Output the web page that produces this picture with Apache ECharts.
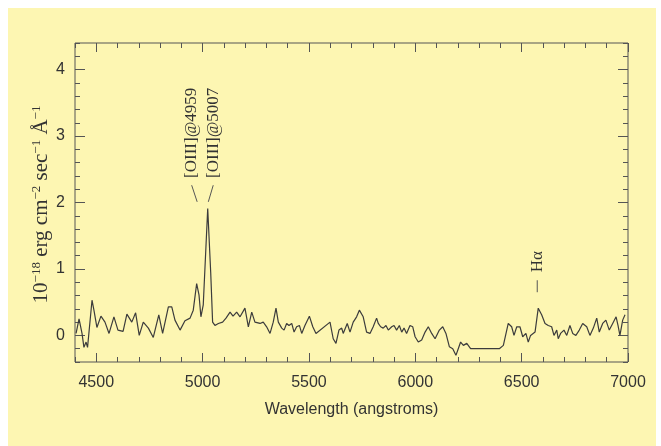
<!DOCTYPE html>
<html>
<head>
<meta charset="utf-8">
<script src="https://cdn.jsdelivr.net/npm/echarts@6/dist/echarts.min.js"></script>
<style>
  html, body { margin: 0; padding: 0; background: #ffffff; }
  #bg { position: absolute; left: 8px; top: 8px; width: 648px; height: 438px; background: #fdf6b2; }
  #chart { position: absolute; left: 0; top: 0; width: 661px; height: 446px; }
</style>
</head>
<body>
<div id="bg"></div>
<div id="chart"></div>
<script>
// ---- data ----
const wavelengths = [4405,4419,4433,4442,4452,4459,4480,4489,4503,4522,
  4541,4560,4583,4602,4626,4644,4667,4685,4702,4721,
  4745,4768,4794,4812,4839,4855,4870,4894,4917,4941,
  4956,4972,4983,4992,5003,5024,5038,5047,5058,5074,
  5094,5110,5129,5143,5160,5176,5199,5215,5231,5246,
  5270,5285,5301,5317,5332,5345,5356,5372,5383,5395,
  5406,5419,5430,5442,5455,5466,5481,5502,5518,5533,
  5599,5614,5627,5641,5654,5661,5680,5693,5708,5724,
  5737,5745,5755,5771,5787,5802,5818,5826,5837,5849,
  5862,5873,5889,5900,5912,5925,5936,5947,5959,5975,
  5988,5999,6014,6030,6046,6061,6077,6093,6113,6129,
  6144,6160,6176,6191,6202,6213,6226,6242,6260,6395,
  6414,6437,6453,6464,6477,6492,6505,6520,6531,6542,
  6563,6578,6594,6610,6625,6641,6652,6665,6672,6683,
  6699,6712,6727,6740,6755,6771,6787,6806,6821,6837,
  6853,6865,6881,6896,6912,6928,6944,6953,6962,6975,
  6986];
const flux = [0.03,0.25,0.03,-0.18,-0.10,-0.18,0.53,0.38,0.12,0.29,
  0.20,0.03,0.28,0.08,0.06,0.32,0.20,0.34,0.00,0.20,
  0.11,-0.03,0.31,0.03,0.43,0.43,0.23,0.08,0.22,0.26,
  0.38,0.78,0.61,0.28,0.46,1.91,0.95,0.20,0.15,0.18,
  0.20,0.26,0.35,0.29,0.35,0.28,0.41,0.13,0.35,0.20,
  0.18,0.20,0.13,0.03,0.20,0.41,0.20,0.11,0.08,0.18,
  0.15,0.18,0.05,0.13,0.15,0.03,0.15,0.29,0.13,0.03,
  0.20,-0.05,-0.12,0.08,0.11,0.03,0.18,0.05,0.20,0.28,
  0.38,0.38,0.28,0.05,0.03,0.13,0.26,0.18,0.13,0.11,
  0.15,0.08,0.13,0.15,0.08,0.15,0.05,0.11,0.03,0.15,
  0.13,-0.02,-0.10,-0.07,0.05,0.13,0.03,-0.05,0.08,0.13,
  0.03,-0.17,-0.20,-0.30,-0.20,-0.10,-0.15,-0.12,-0.20,-0.20,
  -0.15,0.18,0.13,0.00,0.13,0.13,-0.02,0.03,-0.10,0.00,
  0.05,0.41,0.31,0.18,0.15,0.13,0.00,0.08,-0.05,0.03,
  0.08,0.00,0.15,0.03,0.00,0.08,0.18,0.13,0.00,0.11,
  0.26,0.05,0.18,0.23,0.08,0.18,0.28,0.15,0.00,0.23,
  0.31];
const xMajorTicks = [4500, 5000, 5500, 6000, 6500, 7000];
const yMajorTicks = [0, 1, 2, 3, 4];
const annLabels = ['[OIII]@4959', '[OIII]@5007', 'H\u03b1'];
const annWaves = [4972, 5024, 6578];
const xTitle = 'Wavelength (angstroms)';

// ---- chart ----
const X_MIN = 4400, X_MAX = 7000, Y_MIN = -0.4, Y_MAX = 4.4;
const tickColor = '#555';
const labelColor = '#333';
const sans = '"Liberation Sans", Arial, Helvetica, sans-serif';
const serif = '"Liberation Serif", "Times New Roman", serif';

function xAx(pos, major, showLabel) {
  return {
    type: 'value', position: pos, min: X_MIN, max: X_MAX,
    interval: 100,
    axisLine: { show: false, onZero: false },
    splitLine: { show: false },
    axisTick: major
      ? { show: true, inside: true, length: 9, customValues: xMajorTicks, lineStyle: { color: tickColor, width: 1 } }
      : { show: true, inside: true, length: 5, lineStyle: { color: tickColor, width: 1 } },
    axisLabel: showLabel
      ? { show: true, customValues: xMajorTicks, margin: 13, fontSize: 16, color: labelColor, fontFamily: sans,
          formatter: v => String(v) }
      : { show: false },
    name: showLabel ? xTitle : '',
    nameLocation: 'middle', nameGap: 40,
    nameTextStyle: { fontSize: 16, color: labelColor, fontFamily: sans }
  };
}
function yAx(pos, major, showLabel) {
  return {
    type: 'value', position: pos, min: Y_MIN, max: Y_MAX,
    interval: 0.2,
    axisLine: { show: false, onZero: false },
    splitLine: { show: false },
    axisTick: major
      ? { show: true, inside: true, length: 10, customValues: yMajorTicks, lineStyle: { color: tickColor, width: 1 } }
      : { show: true, inside: true, length: 5, lineStyle: { color: tickColor, width: 1 } },
    axisLabel: showLabel
      ? { show: true, customValues: yMajorTicks, margin: 10, fontSize: 16, color: labelColor, fontFamily: sans,
          formatter: v => String(v) }
      : { show: false }
  };
}

const chart = echarts.init(document.getElementById('chart'), null, { renderer: 'canvas' });
chart.setOption({
  backgroundColor: 'transparent',
  animation: false,
  grid: { left: 75, right: 33, top: 43, bottom: 84, show: true, borderColor: '#555', borderWidth: 1, backgroundColor: 'transparent' },
  xAxis: [xAx('bottom', true, true), xAx('bottom', false, false), xAx('top', true, false), xAx('top', false, false)],
  yAxis: [yAx('left', true, true), yAx('left', false, false), yAx('right', true, false), yAx('right', false, false)],
  series: [{
    type: 'line', xAxisIndex: 0, yAxisIndex: 0,
    data: wavelengths.map((w, i) => [w, flux[i]]),
    showSymbol: false, symbol: 'none', smooth: false, clip: true,
    lineStyle: { color: '#3c3c3c', width: 1.2 }
  }]
});

// annotations placed through the chart's own coordinate conversion
function px(w, v) { return chart.convertToPixel({ xAxisIndex: 0, yAxisIndex: 0 }, [w, v]); }
const g = [];
const lineStyle = { stroke: '#555', lineWidth: 1 };
const annFont = '17px ' + serif;
// [OIII] labels
const dx = [-5, 5.5];
for (let i = 0; i < 2; i++) {
  const p = px(annWaves[i], 0);
  const tx = p[0] + dx[i];
  const top = px(annWaves[i], 2.26)[1];
  const bot = px(annWaves[i], 2.01)[1];
  const tb = px(annWaves[i], 2.37)[1];
  g.push({ type: 'text', x: tx, y: tb, rotation: Math.PI / 2,
    style: { text: annLabels[i], fill: '#333', font: annFont, textAlign: 'left', textVerticalAlign: 'middle', align: 'left', verticalAlign: 'middle' } });
  g.push({ type: 'line', shape: { x1: tx, y1: top, x2: p[0] + (i === 0 ? 0.5 : 0.6), y2: bot }, style: lineStyle });
}
// H alpha
{
  const p = px(annWaves[2], 0);
  const tx = p[0] - 1;
  g.push({ type: 'text', x: tx, y: px(annWaves[2], 0.95)[1], rotation: Math.PI / 2,
    style: { text: annLabels[2], fill: '#333', font: annFont, textAlign: 'left', textVerticalAlign: 'middle', align: 'left', verticalAlign: 'middle' } });
  g.push({ type: 'line', shape: { x1: tx, y1: px(annWaves[2], 0.83)[1], x2: tx, y2: px(annWaves[2], 0.65)[1] }, style: lineStyle });
}
// y axis title (rotated, serif, with superscripts)
g.push({ type: 'text', x: 41, y: (px(X_MIN, Y_MIN)[1] + px(X_MIN, Y_MAX)[1]) / 2 + 2, rotation: Math.PI / 2,
  style: {
    text: '10{s|\u221218} erg cm{s|\u22122} sec{s|\u22121} \u00c5{s|\u22121}',
    fill: '#333', font: '21px ' + serif, fontFamily: serif, fontSize: 21,
    textAlign: 'center', textVerticalAlign: 'middle', align: 'center', verticalAlign: 'middle',
    rich: { s: { fontSize: 13, fontFamily: serif, fill: '#333', verticalAlign: 'top', lineHeight: 13 } }
  } });
chart.setOption({ graphic: g });
</script>
</body>
</html>
